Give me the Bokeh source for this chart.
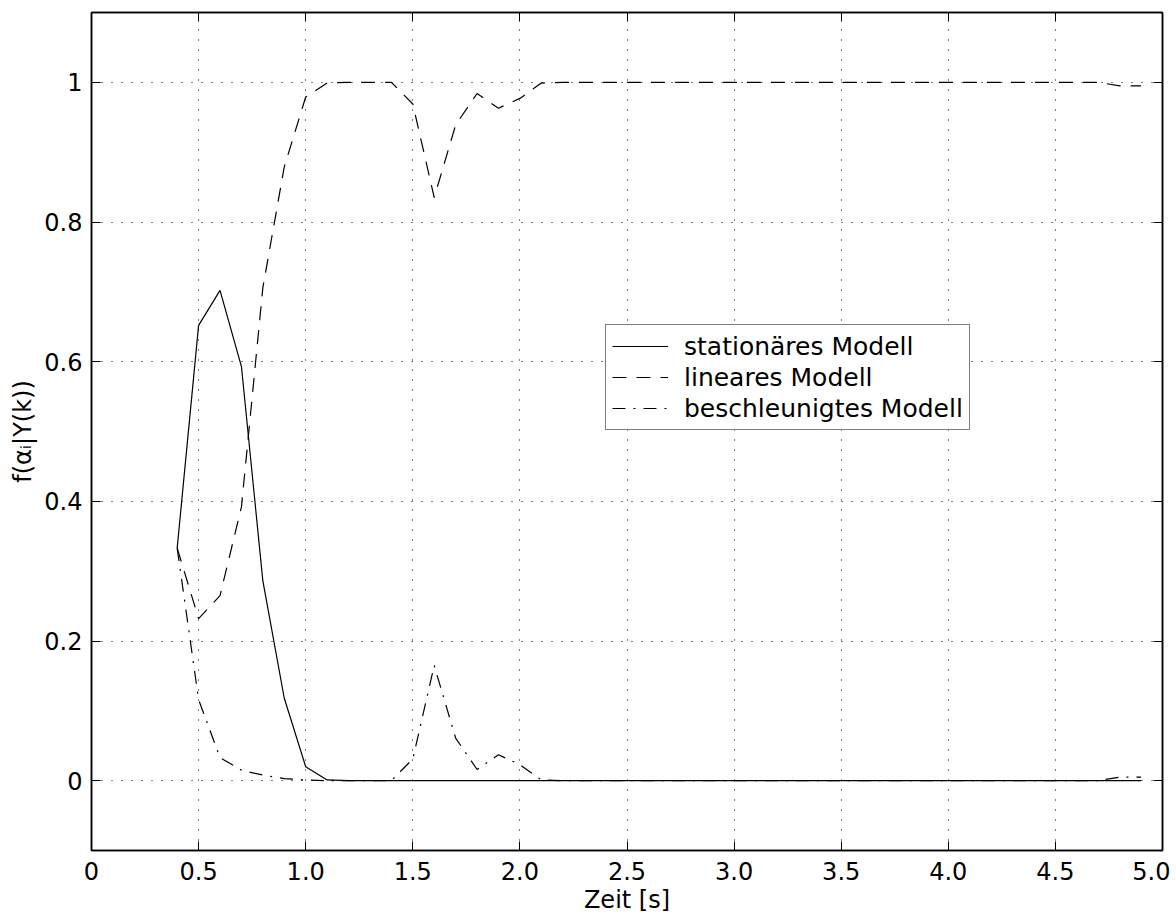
from bokeh.plotting import figure
from bokeh.models import Range1d, LinearAxis, FixedTicker, Legend, LegendItem
from bokeh.embed import file_html
from bokeh.resources import INLINE

# time axis [s]
zeit = [0.4, 0.5, 0.6, 0.7, 0.8, 0.9, 1.0, 1.1, 1.2, 1.3, 1.4, 1.5, 1.6, 1.7, 1.8, 1.9,
        2.0, 2.1, 2.2, 2.3, 2.4, 2.5, 2.6, 2.7, 2.8, 2.9, 3.0, 3.1, 3.2, 3.3, 3.4, 3.5,
        3.6, 3.7, 3.8, 3.9, 4.0, 4.1, 4.2, 4.3, 4.4, 4.5, 4.6, 4.7, 4.8, 4.9]

stationaer = [0.333, 0.652, 0.702, 0.593, 0.286, 0.118, 0.020, 0.001, 0.0, 0.0, 0.0, 0.0,
              0.0, 0.0, 0.0, 0.0, 0.0, 0.0, 0.0, 0.0, 0.0, 0.0, 0.0, 0.0, 0.0, 0.0, 0.0, 0.0,
              0.0, 0.0, 0.0, 0.0, 0.0, 0.0, 0.0, 0.0, 0.0, 0.0, 0.0, 0.0, 0.0, 0.0, 0.0, 0.0,
              0.0, 0.0]

linear = [0.333, 0.232, 0.265, 0.392, 0.706, 0.879, 0.979, 0.999, 1.0, 1.0, 1.0, 0.969,
          0.835, 0.939, 0.984, 0.963, 0.977, 0.999, 1.0, 1.0, 1.0, 1.0, 1.0, 1.0, 1.0, 1.0,
          1.0, 1.0, 1.0, 1.0, 1.0, 1.0, 1.0, 1.0, 1.0, 1.0, 1.0, 1.0, 1.0, 1.0, 1.0, 1.0,
          1.0, 1.0, 0.995, 0.995]

beschleunigt = [0.333, 0.116, 0.033, 0.015, 0.008, 0.003, 0.001, 0.0, 0.0, 0.0, 0.0, 0.031,
                0.165, 0.061, 0.016, 0.037, 0.023, 0.001, 0.0, 0.0, 0.0, 0.0, 0.0, 0.0, 0.0,
                0.0, 0.0, 0.0, 0.0, 0.0, 0.0, 0.0, 0.0, 0.0, 0.0, 0.0, 0.0, 0.0, 0.0, 0.0,
                0.0, 0.0, 0.0, 0.0, 0.005, 0.005]

x_ticks = [0, 0.5, 1.0, 1.5, 2.0, 2.5, 3.0, 3.5, 4.0, 4.5, 5.0]
x_tick_labels = ["0", "0.5", "1.0", "1.5", "2.0", "2.5", "3.0", "3.5", "4.0", "4.5", "5.0"]
y_ticks = [0, 0.2, 0.4, 0.6, 0.8, 1.0]
y_tick_labels = ["0", "0.2", "0.4", "0.6", "0.8", "1"]

series_labels = ["stationäres Modell", "lineares Modell", "beschleunigtes Modell"]

FONT = "DejaVu Sans"
FS = "24px"

p = figure(width=1170, height=918, output_backend="svg", toolbar_location=None,
           x_range=Range1d(0, 5), y_range=Range1d(-0.1, 1.1),
           min_border_left=91, min_border_right=8, min_border_top=12, min_border_bottom=68)

p.outline_line_color = "black"
p.outline_line_width = 1.5
p.background_fill_color = "white"
p.border_fill_color = "white"

def style_axis(ax, ticks, labels, show_labels=True):
    ax.ticker = FixedTicker(ticks=ticks)
    if show_labels:
        ax.major_label_overrides = {t: l for t, l in zip(ticks, labels)}
        ax.major_label_text_font = FONT
        ax.major_label_text_font_size = FS
        ax.major_label_text_color = "black"
    else:
        ax.major_label_overrides = {t: "" for t in ticks}
        ax.major_label_text_font_size = "1px"
        ax.major_label_standoff = 0
    ax.major_tick_in = 9
    ax.major_tick_out = 0
    ax.minor_tick_line_color = None
    ax.major_tick_line_color = "black"
    ax.major_tick_line_width = 1
    ax.axis_line_color = "black"
    ax.axis_line_width = 1.5

style_axis(p.xaxis[0], x_ticks, x_tick_labels)
style_axis(p.yaxis[0], y_ticks, y_tick_labels)
p.xaxis[0].major_label_standoff = 11
p.yaxis[0].major_label_standoff = 9

p.xaxis[0].axis_label = "Zeit [s]"
p.xaxis[0].axis_label_text_font = FONT
p.xaxis[0].axis_label_text_font_size = FS
p.xaxis[0].axis_label_text_font_style = "normal"
p.xaxis[0].axis_label_text_color = "black"
p.xaxis[0].axis_label_standoff = 3

p.yaxis[0].axis_label = "f(αᵢ|Y(k))"
p.yaxis[0].axis_label_text_font = FONT
p.yaxis[0].axis_label_text_font_size = FS
p.yaxis[0].axis_label_text_font_style = "normal"
p.yaxis[0].axis_label_text_color = "black"
p.yaxis[0].axis_label_standoff = 4

top_ax = LinearAxis()
style_axis(top_ax, x_ticks, x_tick_labels, show_labels=False)
p.add_layout(top_ax, "above")
right_ax = LinearAxis()
style_axis(right_ax, y_ticks, y_tick_labels, show_labels=False)
p.add_layout(right_ax, "right")

p.xgrid.ticker = FixedTicker(ticks=x_ticks)
p.ygrid.ticker = FixedTicker(ticks=y_ticks)
p.grid.grid_line_color = "black"
p.grid.grid_line_dash = "1 9"
p.grid.grid_line_width = 1
p.grid.grid_line_alpha = 1.0

r1 = p.line(zeit, stationaer, line_color="black", line_width=1.2)
r2 = p.line(zeit, linear, line_color="black", line_width=1.2, line_dash="14 10")
r3 = p.line(zeit, beschleunigt, line_color="black", line_width=1.2, line_dash="13 8 2 8")

legend = Legend(items=[LegendItem(label=series_labels[0], renderers=[r1]),
                       LegendItem(label=series_labels[1], renderers=[r2]),
                       LegendItem(label=series_labels[2], renderers=[r3])],
                location=(514, 420))
legend.label_text_font = FONT
legend.label_text_font_size = "25px"
legend.label_text_color = "black"
legend.glyph_width = 56
legend.glyph_height = 30
legend.label_height = 30
legend.label_standoff = 16
legend.spacing = 1
legend.padding = 6
legend.margin = 0
legend.border_line_color = "black"
legend.border_line_width = 1.5
legend.background_fill_color = "white"
legend.background_fill_alpha = 1.0
p.add_layout(legend, "center")

open("out.html", "w").write(file_html(p, INLINE))
